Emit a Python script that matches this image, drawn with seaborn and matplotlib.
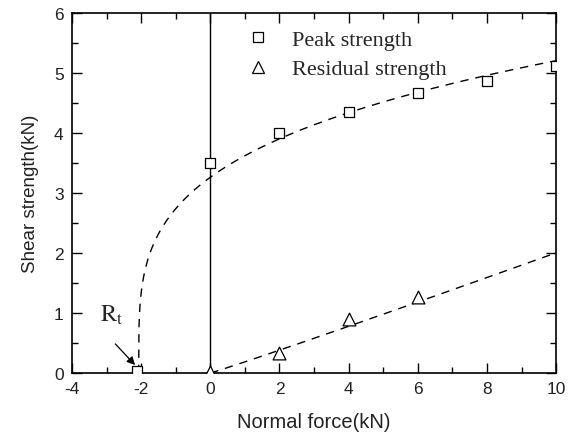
import numpy as np
import pandas as pd
import matplotlib
matplotlib.use("Agg")
import matplotlib.pyplot as plt
import seaborn as sns
from matplotlib.lines import Line2D

# Measured points
peak_x = [-2.12, 0, 2, 4, 6, 8, 10]
peak_y = [0.03, 3.5, 4.0, 4.35, 4.67, 4.87, 5.12]
resid_x = [0, 2, 4, 6]
resid_y = [0.02, 0.33, 0.9, 1.26]

# Fitted curve parameters
peak_fit_a, peak_fit_rt, peak_fit_b = 2.69, 2.07, 0.265
resid_fit_c, resid_fit_d = 0.187, 1.03

sns.set_theme(style="ticks")
plt.rcParams['font.family'] = ['Liberation Sans', 'DejaVu Sans']
plt.rcParams['mathtext.fontset'] = 'stix'
plt.rcParams['axes.unicode_minus'] = False

fig = plt.figure(figsize=(5.71, 4.35), dpi=100)
ax = fig.add_axes([0.126, 0.140, 0.848, 0.828])

# fitted dashed curves
xs_peak = -peak_fit_rt + np.concatenate([np.linspace(0, 0.2, 60), np.linspace(0.2, 10 + peak_fit_rt, 200)[1:]])
ys_peak = peak_fit_a * (xs_peak + peak_fit_rt) ** peak_fit_b
xs_res = np.linspace(0, 10, 200)
ys_res = resid_fit_c * xs_res ** resid_fit_d
sns.lineplot(x=xs_peak, y=ys_peak, ax=ax, color='black', lw=1.0, linestyle=(0, (6, 5)), sort=False, estimator=None)
sns.lineplot(x=xs_res, y=ys_res, ax=ax, color='black', lw=1.0, linestyle=(0, (6, 5)), sort=False, estimator=None)

# vertical line at 0
ax.axvline(0, color='black', lw=1.0, zorder=1)

sns.scatterplot(x=peak_x, y=peak_y, ax=ax, marker='s', s=55, facecolor='white',
                edgecolor='black', linewidth=0.9, zorder=3)
sns.scatterplot(x=resid_x, y=resid_y, ax=ax, marker='^', s=85, facecolor='white',
                edgecolor='black', linewidth=0.9, zorder=3)

ax.set_xlim(-4, 10)
ax.set_ylim(0, 6)
ax.set_xticks(range(-4, 11, 2))
ax.set_yticks(range(0, 7))
ax.set_xticks(range(-3, 10, 2), minor=True)
ax.set_yticks(np.arange(0.5, 6, 1.0), minor=True)
ax.tick_params(which='both', direction='in', top=True, right=True, labelsize=12.5,
               color='black', labelcolor='#222222', width=1.0, pad=6)
ax.tick_params(which='major', length=7)
ax.tick_params(which='minor', length=4)
for sp in ax.spines.values():
    sp.set_linewidth(1.2)
    sp.set_color('black')

ax.set_xlabel('Normal force(kN)', fontsize=14.5, color='#222222', labelpad=11)
ax.set_ylabel('Shear strength(kN)', fontsize=13.5, color='#222222', labelpad=10.5)

handles = [Line2D([], [], marker='s', ls='none', mfc='white', mec='black', ms=7.2, mew=0.9),
           Line2D([], [], marker='^', ls='none', mfc='white', mec='black', ms=9, mew=0.9)]
ax.legend(handles, ['Peak strength', 'Residual strength'], loc='upper left',
          bbox_to_anchor=(0.315, 1.01), frameon=False,
          prop={'family': 'Liberation Serif', 'size': 16}, handletextpad=0.95,
          labelspacing=0.4, handlelength=1.2)

ax.text(-3.2, 0.87, r'$\mathrm{R_t}$', fontsize=17.5, ha='left', va='baseline')
ax.annotate('', xy=(-2.12, 0.1), xytext=(-2.8, 0.52),
            arrowprops=dict(arrowstyle='-|>', color='black', lw=0.9, mutation_scale=12))

fig.savefig('out.png', dpi=100)
